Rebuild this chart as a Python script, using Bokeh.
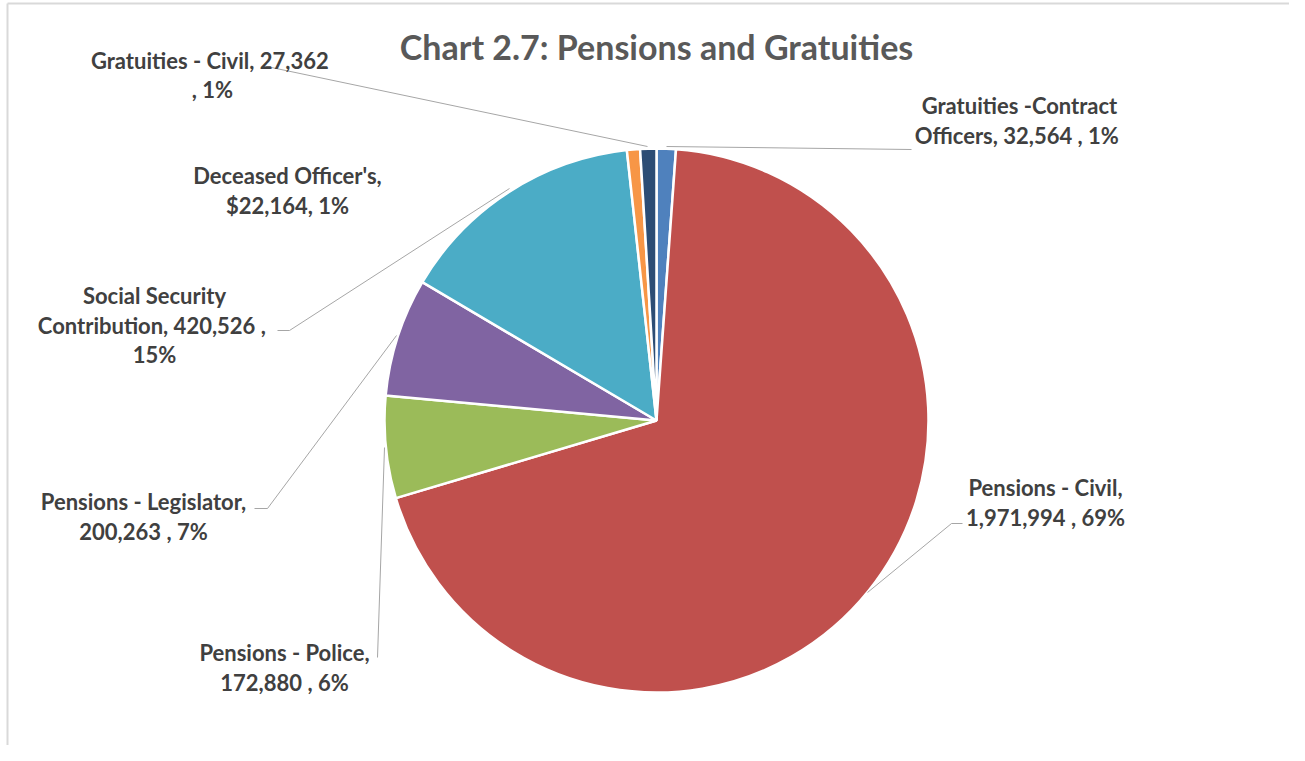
import math
from bokeh.plotting import figure
from bokeh.models import Range1d, ColumnDataSource
from bokeh.core.properties import value
from bokeh.embed import file_html
from bokeh.resources import INLINE

# ---- data ----
categories = ["Gratuities -Contract Officers", "Pensions - Civil", "Pensions - Police",
              "Pensions - Legislator", "Social Security Contribution",
              "Deceased Officer's", "Gratuities - Civil"]
values = [32564, 1971994, 172880, 200263, 420526, 22164, 27362]
colors = ["#4F81BD", "#C0504D", "#9BBB59", "#8064A2", "#4BACC6", "#F79646", "#2C4D75"]
label_lines = [
    ["Gratuities -Contract", "Officers,  32,564 , 1%"],
    ["Pensions - Civil,", "1,971,994 , 69%"],
    ["Pensions - Police,", "172,880 , 6%"],
    ["Pensions - Legislator,", "200,263 , 7%"],
    ["Social Security", "Contribution,  420,526 ,", "15%"],
    ["Deceased Officer's,", "$22,164, 1%"],
    ["Gratuities - Civil,  27,362", ", 1%"],
]
title = "Chart 2.7: Pensions and Gratuities"

# ---- layout ----
W, H = 1289, 745
def X(px): return px - 1
def Y(py): return H - py

FONT = value("Lato")
TXT = "#404040"

p = figure(width=W, height=H, output_backend="svg", toolbar_location=None,
           x_range=Range1d(0, W), y_range=Range1d(0, H), min_border=0)
p.axis.visible = False
p.grid.visible = False
p.outline_line_color = None
p.background_fill_color = "white"
p.border_fill_color = "white"

# frame lines (left and top)
p.segment(x0=[X(8), X(8)], y0=[0, Y(3)], x1=[X(8), W], y1=[Y(3), Y(3)],
          line_color="#D9D9D9", line_width=2)

total = sum(values)
cum = 0.0
starts, ends = [], []
for v in values:
    a0 = math.pi / 2 - 2 * math.pi * cum / total
    cum += v
    a1 = math.pi / 2 - 2 * math.pi * cum / total
    starts.append(a0)
    ends.append(a1)

src = ColumnDataSource(dict(cat=categories, val=values, color=colors,
                            start=starts, end=ends))
cx, cy, r = X(657), Y(420), 272
p.wedge(x=cx, y=cy, radius=r, radius_units="screen", start_angle="start", end_angle="end",
        direction="clock", fill_color="color", line_color="white", line_width=2.5,
        source=src)

# leader lines (reference pixel coordinates)
leaders = [
    [(667, 146), (912, 149)],
    [(963, 523), (952, 523), (868, 592)],
    [(378, 657), (385, 447)],
    [(255, 508), (268, 508), (397, 335)],
    [(278, 330), (290, 330), (510, 188)],
    None,
    [(262, 67), (272, 67), (648, 146)],
]
for ld in leaders:
    if ld:
        p.line([X(a) for a, b in ld], [Y(b) for a, b in ld], line_color="#A6A6A6", line_width=1)

# label anchors: (center x, first line middle y) in reference pixels
anchors = [(1020, 105), (1046, 487), (285, 652), (144, 501), (155, 295), (288, 175), (213, 59.5)]
LS = 29.5
tx, ty, tt = [], [], []
for (ax, ay), lines in zip(anchors, label_lines):
    for i, s in enumerate(lines):
        tx.append(X(ax))
        ty.append(Y(ay + i * LS))
        tt.append(s)
p.text(x=tx, y=ty, text=tt, text_font=FONT, text_font_style="bold", text_font_size="22px",
       text_color=TXT, text_align="center", text_baseline="middle")

p.text(x=[X(657)], y=[Y(46)], text=[title], text_font=FONT, text_font_style="bold",
       text_font_size="34px", text_color="#595959", text_align="center",
       text_baseline="middle")

open("out.html", "w").write(file_html(p, INLINE))
